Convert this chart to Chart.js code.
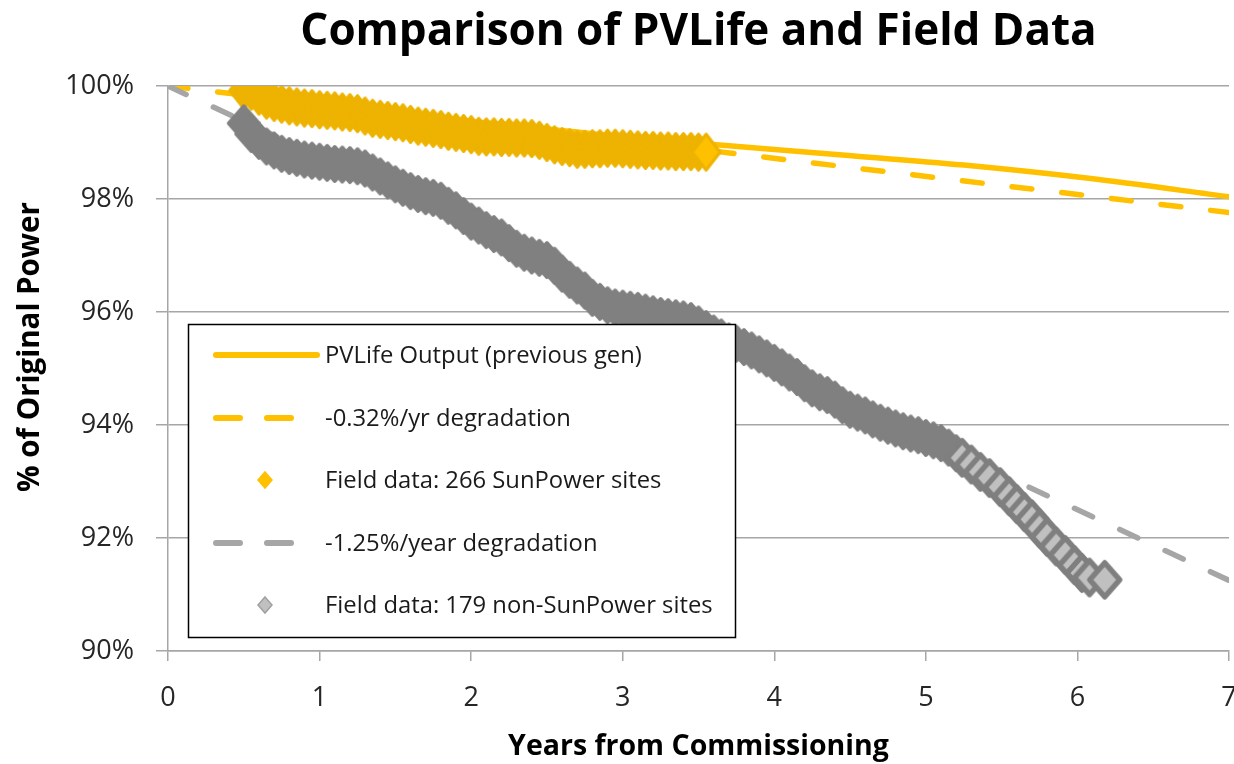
<!DOCTYPE html>
<html>
<head>
<meta charset="utf-8">
<script src="https://cdn.jsdelivr.net/npm/chart.js@4.4.1/dist/chart.umd.min.js"></script>
<style>
html,body{margin:0;padding:0;background:#fff;overflow:hidden}
#wrap{position:relative;width:1234px;height:764px}
</style>
</head>
<body>
<div id="wrap"><canvas id="c" width="1234" height="764"></canvas></div>
<script>
// ---------- DATA ----------
const chartTitle = 'Comparison of PVLife and Field Data';
const xAxisTitle = 'Years from Commissioning';
const yAxisTitle = '% of Original Power';
const xTicks = [0, 1, 2, 3, 4, 5, 6, 7];
const yTicks = [90, 92, 94, 96, 98, 100];

const seriesLabels = [
  'PVLife Output (previous gen)',
  '-0.32%/yr degradation',
  'Field data: 266 SunPower sites',
  '-1.25%/year degradation',
  'Field data: 179 non-SunPower sites'
];

// PVLife model output (solid)
const pvLifeX = [0.5, 1.0, 1.5, 2.0, 2.5, 3.0, 3.62, 4.45, 5.25, 6.06, 7.0];
const pvLifeY = [99.80, 99.65, 99.50, 99.37, 99.24, 99.10, 98.96, 98.78, 98.60, 98.37, 98.04];

// straight degradation references
const rate032X = [0, 7];
const rate032Y = [100, 97.76];
const rate125X = [0, 7];
const rate125Y = [100, 91.25];

// Field data: SunPower sites
const sunX = [0.50,0.55,0.60,0.65,0.70,0.75,0.80,0.85,0.90,0.95,1.00,1.05,1.10,1.15,1.20,1.25,1.30,1.35,1.40,1.45,
  1.50,1.55,1.60,1.65,1.70,1.75,1.80,1.85,1.90,1.95,2.00,2.05,2.10,2.15,2.20,2.25,2.30,2.35,2.40,2.45,
  2.50,2.55,2.60,2.65,2.70,2.75,2.80,2.85,2.90,2.95,3.00,3.05,3.10,3.15,3.20,3.25,3.30,3.35,3.40,3.45,3.50,3.55];
const sunY = [99.92,99.91,99.82,99.75,99.71,99.68,99.65,99.63,99.61,99.60,99.58,99.57,99.56,99.54,99.53,99.51,99.47,99.43,99.41,99.39,
  99.37,99.35,99.32,99.29,99.27,99.25,99.23,99.20,99.18,99.16,99.14,99.11,99.10,99.10,99.09,99.09,99.08,99.08,99.07,99.04,
  99.00,98.96,98.93,98.91,98.88,98.88,98.89,98.89,98.90,98.90,98.89,98.88,98.87,98.86,98.86,98.85,98.85,98.84,98.84,98.84,98.83,98.83];

// Field data: non-SunPower sites (dense part)
const nonSunX = [0.50,0.55,0.60,0.65,0.70,0.75,0.80,0.85,0.90,0.95,1.00,1.05,1.10,1.15,1.20,1.25,1.30,1.35,1.40,1.45,
  1.50,1.55,1.60,1.65,1.70,1.75,1.80,1.85,1.90,1.95,2.00,2.05,2.10,2.15,2.20,2.25,2.30,2.35,2.40,2.45,
  2.50,2.55,2.60,2.65,2.70,2.75,2.80,2.85,2.90,2.95,3.00,3.05,3.10,3.15,3.20,3.25,3.30,3.35,3.40,3.45,
  3.50,3.55,3.60,3.65,3.70,3.75,3.80,3.85,3.90,3.95,4.00,4.05,4.10,4.15,4.20,4.25,4.30,4.35,4.40,4.45,
  4.50,4.55,4.60,4.65,4.70,4.75,4.80,4.85,4.90,4.95,5.00,5.05,5.10,5.15,5.20];
const nonSunY = [99.34,99.15,99.03,98.93,98.86,98.80,98.76,98.73,98.70,98.68,98.66,98.64,98.62,98.61,98.60,98.58,98.54,98.47,98.40,98.33,
  98.26,98.20,98.14,98.09,98.05,98.02,97.97,97.88,97.80,97.70,97.60,97.53,97.45,97.38,97.32,97.22,97.12,97.05,97.00,96.96,
  96.92,96.82,96.68,96.57,96.47,96.38,96.25,96.18,96.12,96.08,96.06,96.04,96.02,95.99,95.96,95.93,95.91,95.89,95.87,95.84,
  95.78,95.70,95.62,95.55,95.48,95.44,95.38,95.32,95.25,95.18,95.10,95.02,94.93,94.85,94.74,94.65,94.58,94.53,94.45,94.35,
  94.27,94.22,94.17,94.10,94.04,93.99,93.94,93.89,93.85,93.82,93.77,93.73,93.68,93.60,93.50];
// Field data: non-SunPower sites (sparse tail)
const nonSunTailX = [5.24,5.30,5.36,5.42,5.49,5.55,5.60,5.65,5.70,5.75,5.80,5.86,5.92,5.98,6.03,6.08,6.18];
const nonSunTailY = [93.42,93.30,93.17,93.06,92.90,92.74,92.60,92.46,92.33,92.17,92.02,91.85,91.70,91.52,91.38,91.30,91.26];

// ---------- STYLE HELPERS ----------
const FONT = '"Open Sans", "Noto Sans", "DejaVu Sans", sans-serif';
const YELLOW = '#FFC000';
const YELLOW_DARK = '#EDB300';
const GRAY_LINE = '#A6A6A6';
const GRAY_DARK = '#808080';
const GRAY_LIGHT = '#C0C0C0';
const AXIS_GRAY = '#A6A6A6';

function diamond(halfW, halfH, fill, stroke, lw) {
  const c = document.createElement('canvas');
  const w = Math.ceil(2 * halfW + lw + 4), h = Math.ceil(2 * halfH + lw + 4);
  c.width = w; c.height = h;
  const g = c.getContext('2d');
  const cx = w / 2, cy = h / 2;
  g.beginPath();
  g.moveTo(cx, cy - halfH); g.lineTo(cx + halfW, cy); g.lineTo(cx, cy + halfH); g.lineTo(cx - halfW, cy);
  g.closePath();
  g.fillStyle = fill; g.fill();
  if (lw > 0) { g.lineWidth = lw; g.strokeStyle = stroke; g.lineJoin = 'round'; g.stroke(); }
  return c;
}
const pts = (xs, ys) => xs.map((x, i) => ({ x: x, y: ys[i] }));

const yellowDense = diamond(14, 18, YELLOW_DARK, YELLOW_DARK, 3);
const yellowLast = diamond(14, 18, YELLOW, YELLOW_DARK, 3);
const grayDense = diamond(15, 17, GRAY_DARK, GRAY_DARK, 4);
const grayTail = diamond(15, 17, GRAY_LIGHT, '#7F7F7F', 5.5);

// ---------- PLUGINS ----------
const boxLegend = {
  id: 'boxLegend',
  afterDatasetsDraw(chart) {
    const ctx = chart.ctx;
    const a = chart.chartArea;
    const L = a.left + 20, T = a.top + 238, W = 548, H = 314;
    ctx.save();
    ctx.fillStyle = '#fff';
    ctx.fillRect(L, T, W, H);
    ctx.strokeStyle = '#000';
    ctx.lineWidth = 1.5;
    ctx.strokeRect(L + 0.5, T + 0.5, W - 1, H - 1);
    const rowY = [31, 94, 156, 219, 281];
    const sx0 = L + 28, sx1 = L + 129, mx = L + 77, tx = L + 137;
    ctx.font = '23.8px ' + FONT;
    ctx.textBaseline = 'middle';
    ctx.textAlign = 'left';
    chart.data.datasets.forEach((ds, i) => {
      const y = T + rowY[i];
      if (ds.legendKind === 'line' || ds.legendKind === 'dash') {
        ctx.save();
        ctx.strokeStyle = ds.borderColor;
        ctx.lineWidth = 6;
        ctx.lineCap = 'round';
        ctx.beginPath();
        if (ds.legendKind === 'line') {
          ctx.moveTo(sx0, y); ctx.lineTo(sx1, y);
        } else {
          ctx.moveTo(sx0, y); ctx.lineTo(sx0 + 24, y);
          ctx.moveTo(sx0 + 51, y); ctx.lineTo(sx0 + 75, y);
        }
        ctx.stroke();
        ctx.restore();
      } else {
        ctx.save();
        ctx.beginPath();
        ctx.moveTo(mx, y - 8); ctx.lineTo(mx + 7, y); ctx.lineTo(mx, y + 8); ctx.lineTo(mx - 7, y);
        ctx.closePath();
        ctx.fillStyle = ds.legendFill;
        ctx.fill();
        ctx.lineWidth = 1.5;
        ctx.strokeStyle = ds.legendStroke;
        ctx.stroke();
        ctx.restore();
      }
      ctx.fillStyle = '#1a1a1a';
      ctx.fillText(ds.label, tx, y + 1);
    });
    ctx.restore();
  }
};

const yTitlePlugin = {
  id: 'yTitle',
  afterDraw(chart) {
    const ctx = chart.ctx;
    ctx.save();
    ctx.translate(31, 347);
    ctx.rotate(-Math.PI / 2);
    ctx.font = 'bold 29.5px ' + FONT;
    ctx.fillStyle = '#000';
    ctx.textAlign = 'center';
    ctx.textBaseline = 'middle';
    ctx.fillText(yAxisTitle, 0, 0);
    ctx.restore();
  }
};

// ---------- CHART ----------
function build() {
  const datasets = [
    {
      label: seriesLabels[0], legendKind: 'line',
      data: pts(pvLifeX, pvLifeY), borderColor: YELLOW, backgroundColor: YELLOW,
      borderWidth: 5.5, pointRadius: 0, cubicInterpolationMode: 'monotone', fill: false, order: 5
    },
    {
      label: seriesLabels[1], legendKind: 'dash',
      data: pts(rate032X, rate032Y), borderColor: YELLOW, backgroundColor: YELLOW,
      borderWidth: 5.5, borderDash: [20, 30], borderCapStyle: 'round', pointRadius: 0, fill: false, order: 4
    },
    {
      label: seriesLabels[2], legendKind: 'marker', legendFill: YELLOW, legendStroke: YELLOW,
      data: pts(sunX, sunY), showLine: false, borderColor: YELLOW_DARK, backgroundColor: YELLOW,
      pointRadius: 18,
      pointStyle: (c) => c.dataIndex === sunX.length - 1 ? yellowLast : yellowDense,
      order: 3
    },
    {
      label: seriesLabels[3], legendKind: 'dash',
      data: pts(rate125X, rate125Y), borderColor: GRAY_LINE, backgroundColor: GRAY_LINE,
      borderWidth: 5.5, borderDash: [20, 30], borderCapStyle: 'round', pointRadius: 0, fill: false, order: 2
    },
    {
      label: seriesLabels[4], legendKind: 'marker', legendFill: GRAY_LIGHT, legendStroke: '#A0A0A0',
      data: pts(nonSunX.concat(nonSunTailX), nonSunY.concat(nonSunTailY)), showLine: false,
      borderColor: GRAY_DARK, backgroundColor: GRAY_LIGHT,
      pointRadius: 18,
      pointStyle: (c) => c.dataIndex >= nonSunX.length ? grayTail : grayDense,
      order: 1
    }
  ];

  new Chart(document.getElementById('c'), {
    type: 'line',
    data: { datasets: datasets },
    plugins: [boxLegend, yTitlePlugin],
    options: {
      responsive: false,
      animation: false,
      devicePixelRatio: 1,
      events: [],
      layout: { autoPadding: false, padding: { left: 0, right: 5, top: 0, bottom: 0 } },
      plugins: {
        legend: { display: false },
        tooltip: { enabled: false },
        title: {
          display: true, fullSize: false, text: chartTitle, color: '#000',
          font: { family: FONT, size: 44, weight: 'bold' },
          padding: { top: 6, bottom: 27.2 }
        }
      },
      scales: {
        x: {
          type: 'linear', min: 0, max: 7,
          afterBuildTicks: (s) => { s.ticks = xTicks.map(v => ({ value: v })); },
          ticks: { color: '#262626', font: { family: FONT, size: 27 }, padding: 21, maxRotation: 0, autoSkip: false },
          grid: { drawOnChartArea: false, drawTicks: true, tickLength: 10, color: AXIS_GRAY, lineWidth: 1.5 },
          border: { display: true, color: AXIS_GRAY, width: 1.5 },
          title: { display: true, text: xAxisTitle, color: '#000', font: { family: FONT, size: 28.5, weight: 'bold' }, padding: 0 },
          afterFit: (s) => { s.height = 113; s.paddingRight = 0; s.paddingLeft = 0; }
        },
        y: {
          type: 'linear', min: 90, max: 100,
          afterBuildTicks: (s) => { s.ticks = yTicks.map(v => ({ value: v })); },
          ticks: { color: '#262626', font: { family: FONT, size: 27 }, padding: 22, callback: (v) => v + '%' },
          grid: { color: AXIS_GRAY, lineWidth: 1.5, tickLength: 12 },
          border: { display: true, color: AXIS_GRAY, width: 1.5 },
          afterFit: (s) => { s.width = 168; }
        }
      }
    }
  });
}

const loads = ['27px "Open Sans"', 'bold 44px "Open Sans"', '24px "Open Sans"', 'bold 28px "Open Sans"'].map(f => document.fonts.load(f).catch(() => null));
Promise.all(loads).then(build, build);
</script>
</body>
</html>
